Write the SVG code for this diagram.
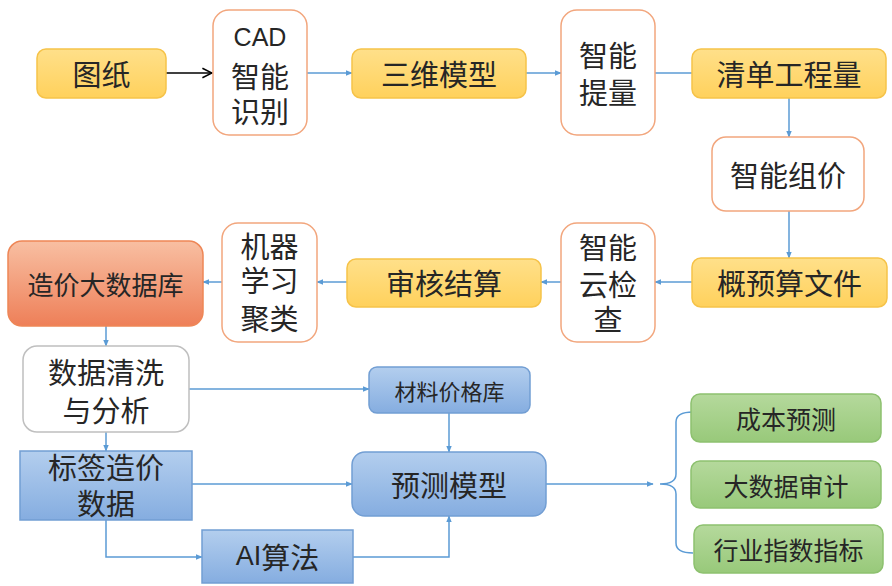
<svg xmlns="http://www.w3.org/2000/svg" width="892" height="586" viewBox="0 0 892 586">
<defs>
<linearGradient id="gGold" x1="0" y1="0" x2="0" y2="1"><stop offset="0" stop-color="#FFE08A"/><stop offset="1" stop-color="#FFD15C"/></linearGradient>
<linearGradient id="gSalmon" x1="0" y1="0" x2="0" y2="1"><stop offset="0" stop-color="#F8BFA2"/><stop offset="1" stop-color="#EE7F58"/></linearGradient>
<linearGradient id="gBlue" x1="0" y1="0" x2="0" y2="1"><stop offset="0" stop-color="#B3CEEE"/><stop offset="1" stop-color="#85ADE0"/></linearGradient>
<linearGradient id="gGreen" x1="0" y1="0" x2="0" y2="1"><stop offset="0" stop-color="#B5D99C"/><stop offset="1" stop-color="#98C97A"/></linearGradient>
<marker id="ab" viewBox="0 0 10 10" refX="9" refY="5" markerWidth="7" markerHeight="7" orient="auto" markerUnits="userSpaceOnUse"><path d="M0,1 L10,5 L0,9 z" fill="#5B9BD5"/></marker>
<marker id="ak" viewBox="0 0 10 10" refX="9" refY="5" markerWidth="12" markerHeight="12" orient="auto" markerUnits="userSpaceOnUse"><path d="M1,1 L9,5 L1,9" fill="none" stroke="#000" stroke-width="1.3"/></marker>
</defs>
<style>
text{font-family:"Noto Sans CJK SC","Liberation Sans",sans-serif;fill:#262626;text-anchor:middle;dominant-baseline:central}
.gold{fill:url(#gGold);stroke:#F6C349;stroke-width:1.5}
.wo{fill:#fff;stroke:#F2A67D;stroke-width:1.5}
.wg{fill:#fff;stroke:#BFBFBF;stroke-width:1.5}
.sal{fill:url(#gSalmon);stroke:#EE8656;stroke-width:1.5}
.blue{fill:url(#gBlue);stroke:#729ED3;stroke-width:1.5}
.green{fill:url(#gGreen);stroke:#8DC16F;stroke-width:1.5}
.c{fill:none;stroke:#5B9BD5;stroke-width:1.5}
.f30{font-size:29px}
.f26{font-size:26px}
.f22{font-size:22px}
.f25{font-size:25px}
</style>
<g id="connectors">
<line x1="166" y1="73" x2="212" y2="73" stroke="#000" stroke-width="1.3" marker-end="url(#ak)"/>
<line class="c" x1="307" y1="73" x2="352" y2="73" marker-end="url(#ab)"/>
<line class="c" x1="526" y1="73" x2="561" y2="73" marker-end="url(#ab)"/>
<line class="c" x1="655" y1="73" x2="708" y2="73" marker-end="url(#ab)"/>
<line class="c" x1="789" y1="98" x2="789" y2="137" marker-end="url(#ab)"/>
<line class="c" x1="789" y1="211" x2="789" y2="258" marker-end="url(#ab)"/>
<line class="c" x1="692" y1="282" x2="655" y2="282" marker-end="url(#ab)"/>
<line class="c" x1="561" y1="282" x2="541" y2="282" marker-end="url(#ab)"/>
<line class="c" x1="347" y1="282" x2="317" y2="282" marker-end="url(#ab)"/>
<line class="c" x1="222" y1="282" x2="203" y2="282" marker-end="url(#ab)"/>
<line class="c" x1="106" y1="326" x2="106" y2="346" marker-end="url(#ab)"/>
<line class="c" x1="189" y1="389" x2="369" y2="389" marker-end="url(#ab)"/>
<line class="c" x1="106" y1="432" x2="106" y2="451" marker-end="url(#ab)"/>
<line class="c" x1="449" y1="413" x2="449" y2="452" marker-end="url(#ab)"/>
<line class="c" x1="192" y1="484" x2="352" y2="484" marker-end="url(#ab)"/>
<polyline class="c" points="106,520 106,557 202,557" marker-end="url(#ab)"/>
<polyline class="c" points="353,557 449,557 449,516" marker-end="url(#ab)"/>
<line class="c" x1="546" y1="484" x2="653" y2="484" marker-end="url(#ab)"/>
<path class="c" d="M693,412 Q676,412 676,422 L676,474 Q676,484 660,484 Q676,484 676,494 L676,543 Q676,553 693,553"/>
</g>
<g id="n1"><rect class="gold" x="37" y="49" width="129" height="49" rx="9"/><text class="f30" x="101.5" y="73">图纸</text></g>
<g id="n2"><rect class="wo" x="213" y="10" width="94" height="125" rx="16"/><text class="f26" x="260" y="37" style="font-family:'Liberation Sans','Noto Sans',sans-serif;font-size:25px">CAD</text><text class="f30" x="260" y="75">智能</text><text class="f30" x="260" y="110">识别</text></g>
<g id="n3"><rect class="gold" x="352" y="49" width="174" height="49" rx="9"/><text class="f30" x="439" y="73">三维模型</text></g>
<g id="n4"><rect class="wo" x="561" y="10" width="94" height="125" rx="16"/><text class="f30" x="608" y="54">智能</text><text class="f30" x="608" y="91">提量</text></g>
<g id="n5"><rect class="gold" x="692" y="49" width="194" height="49" rx="9"/><text class="f30" x="789" y="73">清单工程量</text></g>
<g id="n6"><rect class="wo" x="712" y="137" width="152" height="74" rx="14"/><text class="f30" x="788" y="174">智能组价</text></g>
<g id="n7"><rect class="gold" x="692" y="258" width="195" height="49" rx="9"/><text class="f30" x="789.5" y="282">概预算文件</text></g>
<g id="n8"><rect class="wo" x="561" y="223" width="94" height="119" rx="16"/><text class="f30" x="608" y="246">智能</text><text class="f30" x="608" y="283">云检</text><text class="f30" x="608" y="318">查</text></g>
<g id="n9"><rect class="gold" x="347" y="259" width="194" height="48" rx="9"/><text class="f30" x="444" y="282">审核结算</text></g>
<g id="n10"><rect class="wo" x="222" y="223" width="95" height="119" rx="16"/><text class="f30" x="269.5" y="245">机器</text><text class="f30" x="269.5" y="279">学习</text><text class="f30" x="269.5" y="317">聚类</text></g>
<g id="n11"><rect class="sal" x="8" y="241" width="195" height="85" rx="14"/><text class="f26" x="105.5" y="283">造价大数据库</text></g>
<g id="n12"><rect class="wg" x="23" y="346" width="166" height="86" rx="14"/><text class="f30" x="106" y="371">数据清洗</text><text class="f30" x="106" y="409">与分析</text></g>
<g id="n13"><rect class="blue" x="369" y="367" width="161" height="46" rx="8"/><text class="f22" x="449.5" y="390">材料价格库</text></g>
<g id="n14"><rect class="blue" x="20" y="451" width="172" height="69"/><text class="f30" x="106" y="466">标签造价</text><text class="f30" x="106" y="502">数据</text></g>
<g id="n15"><rect class="blue" x="352" y="452" width="194" height="64" rx="13"/><text class="f30" x="449" y="484">预测模型</text></g>
<g id="n16"><rect class="blue" x="202" y="530" width="151" height="53"/><text class="f30" x="277.5" y="556"><tspan style="font-family:'Liberation Sans','Noto Sans',sans-serif;font-size:27px">AI</tspan>算法</text></g>
<g id="n17"><rect class="green" x="691" y="394" width="190" height="48" rx="9"/><text class="f25" x="786" y="418">成本预测</text></g>
<g id="n18"><rect class="green" x="691" y="461" width="190" height="47" rx="9"/><text class="f25" x="786" y="484.5">大数据审计</text></g>
<g id="n19"><rect class="green" x="694" y="525" width="189" height="48" rx="9"/><text class="f25" x="788.5" y="549">行业指数指标</text></g>
</svg>
